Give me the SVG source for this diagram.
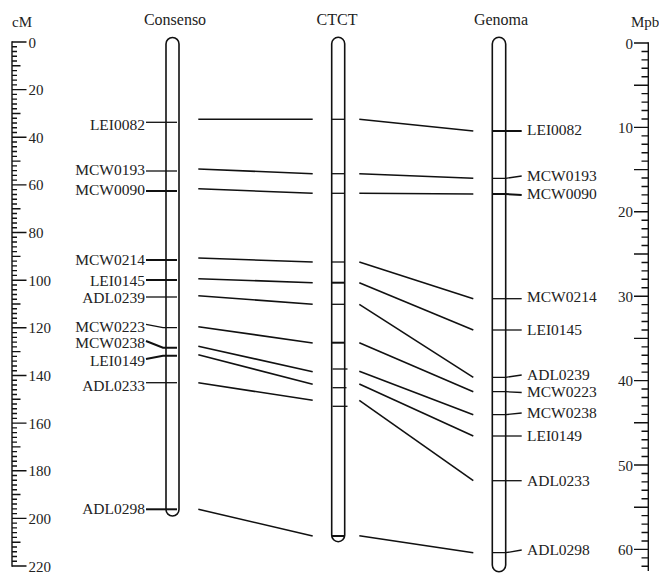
<svg xmlns="http://www.w3.org/2000/svg" width="659" height="573" viewBox="0 0 659 573">
<style>
text{font-family:"Liberation Serif","Times New Roman",serif;fill:#222}
.t{font-size:16px;text-anchor:middle}
.l{font-size:15.5px}
.e{text-anchor:end}
.n{font-size:15px}
.chr{fill:#fff;stroke:#111;stroke-width:1.6}
.k{fill:none;stroke:#111;stroke-width:1.3}
.k2{fill:none;stroke:#111;stroke-width:2}
.c{fill:none;stroke:#111;stroke-width:1.6}
.ax{fill:none;stroke:#111;stroke-width:1.4}
</style>
<g id="axis-cM">
<text class="n" x="12" y="27">cM</text>
<line class="ax" x1="12" y1="41.3" x2="12" y2="566.7" stroke-width="1.6"/>
<path class="ax" stroke-width="1.2" d="M12 46.76H17M12 51.53H17M12 56.29H17M12 61.05H17M12 70.58H17M12 75.35H17M12 80.11H17M12 84.87H17M12 94.4H17M12 99.16H17M12 103.93H17M12 108.69H17M12 118.22H17M12 122.98H17M12 127.75H17M12 132.51H17M12 142.04H17M12 146.8H17M12 151.56H17M12 156.33H17M12 165.85H17M12 170.62H17M12 175.38H17M12 180.15H17M12 189.67H17M12 194.44H17M12 199.2H17M12 203.96H17M12 213.49H17M12 218.25H17M12 223.02H17M12 227.78H17M12 237.31H17M12 242.07H17M12 246.84H17M12 251.6H17M12 261.13H17M12 265.89H17M12 270.65H17M12 275.42H17M12 284.95H17M12 289.71H17M12 294.47H17M12 299.24H17M12 308.76H17M12 313.53H17M12 318.29H17M12 323.05H17M12 332.58H17M12 337.35H17M12 342.11H17M12 346.87H17M12 356.4H17M12 361.16H17M12 365.93H17M12 370.69H17M12 380.22H17M12 384.98H17M12 389.75H17M12 394.51H17M12 404.04H17M12 408.8H17M12 413.56H17M12 418.33H17M12 427.85H17M12 432.62H17M12 437.38H17M12 442.15H17M12 451.67H17M12 456.44H17M12 461.2H17M12 465.96H17M12 475.49H17M12 480.25H17M12 485.02H17M12 489.78H17M12 499.31H17M12 504.07H17M12 508.84H17M12 513.6H17M12 523.13H17M12 527.89H17M12 532.65H17M12 537.42H17M12 546.95H17M12 551.71H17M12 556.47H17M12 561.24H17"/>
<path class="ax" d="M12 65.82H20.5M12 113.45H20.5M12 161.09H20.5M12 208.73H20.5M12 256.36H20.5M12 304H20.5M12 351.64H20.5M12 399.27H20.5M12 446.91H20.5M12 494.55H20.5M12 542.18H20.5"/>
<path class="ax" d="M12 42H26.5M12 89.64H26.5M12 137.27H26.5M12 184.91H26.5M12 232.55H26.5M12 280.18H26.5M12 327.82H26.5M12 375.45H26.5M12 423.09H26.5M12 470.73H26.5M12 518.36H26.5M12 566H26.5"/>
<text class="n" x="28.5" y="47.5">0</text>
<text class="n" x="28.5" y="95.1">20</text>
<text class="n" x="28.5" y="142.8">40</text>
<text class="n" x="28.5" y="190.4">60</text>
<text class="n" x="28.5" y="238">80</text>
<text class="n" x="28.5" y="285.7">100</text>
<text class="n" x="28.5" y="333.3">120</text>
<text class="n" x="28.5" y="381">140</text>
<text class="n" x="28.5" y="428.6">160</text>
<text class="n" x="28.5" y="476.2">180</text>
<text class="n" x="28.5" y="523.9">200</text>
<text class="n" x="28.5" y="571.5">220</text>
</g>
<g id="axis-Mpb">
<text class="n" x="631" y="27">Mpb</text>
<line class="ax" x1="648.3" y1="42.3" x2="648.3" y2="571" stroke-width="1.6"/>
<path class="ax" stroke-width="1.2" d="M641.5 51.44H648.3M641.5 59.88H648.3M641.5 68.32H648.3M641.5 76.76H648.3M641.5 93.64H648.3M641.5 102.08H648.3M641.5 110.52H648.3M641.5 118.96H648.3M641.5 135.84H648.3M641.5 144.28H648.3M641.5 152.72H648.3M641.5 161.16H648.3M641.5 178.04H648.3M641.5 186.48H648.3M641.5 194.92H648.3M641.5 203.36H648.3M641.5 220.24H648.3M641.5 228.68H648.3M641.5 237.12H648.3M641.5 245.56H648.3M641.5 262.44H648.3M641.5 270.88H648.3M641.5 279.32H648.3M641.5 287.76H648.3M641.5 304.64H648.3M641.5 313.08H648.3M641.5 321.52H648.3M641.5 329.96H648.3M641.5 346.84H648.3M641.5 355.28H648.3M641.5 363.72H648.3M641.5 372.16H648.3M641.5 389.04H648.3M641.5 397.48H648.3M641.5 405.92H648.3M641.5 414.36H648.3M641.5 431.24H648.3M641.5 439.68H648.3M641.5 448.12H648.3M641.5 456.56H648.3M641.5 473.44H648.3M641.5 481.88H648.3M641.5 490.32H648.3M641.5 498.76H648.3M641.5 515.64H648.3M641.5 524.08H648.3M641.5 532.52H648.3M641.5 540.96H648.3M641.5 557.84H648.3M641.5 566.28H648.3"/>
<path class="ax" d="M634 43H648.3M634 85.2H648.3M634 127.4H648.3M634 169.6H648.3M634 211.8H648.3M634 254H648.3M634 296.2H648.3M634 338.4H648.3M634 380.6H648.3M634 422.8H648.3M634 465H648.3M634 507.2H648.3M634 549.4H648.3"/>
<text class="n e" x="633" y="48.5">0</text>
<text class="n e" x="633" y="132.9">10</text>
<text class="n e" x="633" y="217.3">20</text>
<text class="n e" x="633" y="301.7">30</text>
<text class="n e" x="633" y="386.1">40</text>
<text class="n e" x="633" y="470.5">50</text>
<text class="n e" x="633" y="554.9">60</text>
</g>
<g id="node-consenso">
<text class="t" x="175" y="25">Consenso</text>
<rect class="chr" x="166" y="37.5" width="13" height="478.5" rx="6.5"/>
<line class="k" x1="146" y1="122.3" x2="177" y2="122.3"/>
<line class="k" x1="146" y1="171" x2="177" y2="171"/>
<line class="k2" x1="146" y1="191" x2="177" y2="191"/>
<line class="k2" x1="146" y1="260" x2="177" y2="260"/>
<line class="k2" x1="146" y1="280" x2="177" y2="280"/>
<line class="k" x1="146" y1="297" x2="177" y2="297"/>
<polyline class="k" points="146,324.3 163,327.7 177,327.7"/>
<polyline class="k2" points="146,341 163,347.7 177,347.7"/>
<polyline class="k2" points="146,359 163,355.7 177,355.7"/>
<line class="k" x1="146" y1="382.7" x2="177" y2="382.7"/>
<line class="k2" x1="146" y1="509.3" x2="177" y2="509.3"/>
<text class="l e" x="145" y="130">LEI0082</text>
<text class="l e" x="145" y="175">MCW0193</text>
<text class="l e" x="145" y="194.5">MCW0090</text>
<text class="l e" x="145" y="265">MCW0214</text>
<text class="l e" x="145" y="285.5">LEI0145</text>
<text class="l e" x="145" y="303">ADL0239</text>
<text class="l e" x="145" y="331.5">MCW0223</text>
<text class="l e" x="145" y="348">MCW0238</text>
<text class="l e" x="145" y="366">LEI0149</text>
<text class="l e" x="145" y="391">ADL0233</text>
<text class="l e" x="145" y="514">ADL0298</text>
</g>
<g id="node-ctct">
<text class="t" x="337" y="25">CTCT</text>
<rect class="chr" x="331.7" y="37.3" width="13" height="504.4" rx="6.5"/>
<line class="k" x1="331.7" y1="119.3" x2="344.7" y2="119.3"/>
<line class="k" x1="331.7" y1="173.7" x2="344.7" y2="173.7"/>
<line class="k" x1="331.7" y1="193.3" x2="344.7" y2="193.3"/>
<line class="k" x1="331.7" y1="262" x2="344.7" y2="262"/>
<line class="k2" x1="331.7" y1="282.7" x2="344.7" y2="282.7"/>
<line class="k" x1="331.7" y1="304.3" x2="344.7" y2="304.3"/>
<line class="k2" x1="331.7" y1="342.7" x2="344.7" y2="342.7"/>
<line class="k" x1="332.5" y1="369" x2="347.5" y2="369"/>
<line class="k" x1="332.5" y1="387.7" x2="346.5" y2="387.7"/>
<line class="k" x1="332.5" y1="406.3" x2="347.5" y2="406.3"/>
<line class="k2" x1="331.7" y1="536" x2="344.7" y2="536"/>
</g>
<g id="node-genoma">
<text class="t" x="501" y="25">Genoma</text>
<rect class="chr" x="492.3" y="37.3" width="13.4" height="534.4" rx="6.7"/>
<polyline class="k2" points="492.3,131 505.7,131 521.7,131"/>
<polyline class="k" points="492.3,178.3 505.7,178.3 521.7,176"/>
<polyline class="k2" points="492.3,194 505.7,194 521.7,195"/>
<polyline class="k" points="492.3,298.7 505.7,298.7 521.7,298.7"/>
<polyline class="k" points="492.3,330 505.7,330 521.7,330"/>
<polyline class="k" points="492.3,377.3 505.7,377.3 521.7,375"/>
<polyline class="k" points="492.3,391.7 505.7,391.7 521.7,392.5"/>
<polyline class="k" points="492.3,414.7 505.7,414.7 521.7,413"/>
<polyline class="k" points="492.3,436 505.7,436 521.7,436"/>
<polyline class="k" points="492.3,480.7 505.7,480.7 521.7,480.7"/>
<polyline class="k" points="492.3,552.7 505.7,552.7 521.7,550"/>
<text class="l" x="527" y="135">LEI0082</text>
<text class="l" x="527" y="181">MCW0193</text>
<text class="l" x="527" y="198.5">MCW0090</text>
<text class="l" x="527" y="302">MCW0214</text>
<text class="l" x="527" y="334.5">LEI0145</text>
<text class="l" x="527" y="380">ADL0239</text>
<text class="l" x="527" y="397">MCW0223</text>
<text class="l" x="527" y="418">MCW0238</text>
<text class="l" x="527" y="440.5">LEI0149</text>
<text class="l" x="527" y="485.5">ADL0233</text>
<text class="l" x="527" y="555">ADL0298</text>
</g>
<g id="connectors">
<line class="c" x1="198.3" y1="119.3" x2="312.7" y2="119.3"/>
<line class="c" x1="198.3" y1="169" x2="312.7" y2="173.7"/>
<line class="c" x1="198.3" y1="188.7" x2="312.7" y2="193.3"/>
<line class="c" x1="198.3" y1="258" x2="312.7" y2="262"/>
<line class="c" x1="198.3" y1="278.7" x2="312.7" y2="282.7"/>
<line class="c" x1="198.3" y1="295.7" x2="312.7" y2="304.3"/>
<line class="c" x1="198.3" y1="326.7" x2="312.7" y2="343"/>
<line class="c" x1="198.3" y1="346.3" x2="312.7" y2="371.7"/>
<line class="c" x1="198.3" y1="354.7" x2="312.7" y2="384.3"/>
<line class="c" x1="198.3" y1="382.7" x2="312.7" y2="400.3"/>
<line class="c" x1="198.3" y1="509.3" x2="312.7" y2="536"/>
<line class="c" x1="359.3" y1="119.3" x2="473.3" y2="131"/>
<line class="c" x1="359.3" y1="173.7" x2="473.3" y2="178.3"/>
<line class="c" x1="359.3" y1="193.3" x2="473.3" y2="194"/>
<line class="c" x1="359.3" y1="262" x2="473.3" y2="298.7"/>
<line class="c" x1="359.3" y1="282.7" x2="473.3" y2="330"/>
<line class="c" x1="359.3" y1="304.3" x2="473.3" y2="377.3"/>
<line class="c" x1="359.3" y1="342.7" x2="473.3" y2="391.7"/>
<line class="c" x1="359.3" y1="371.3" x2="473.3" y2="414.7"/>
<line class="c" x1="359.3" y1="384" x2="473.3" y2="436"/>
<line class="c" x1="359.3" y1="400.3" x2="473.3" y2="480.7"/>
<line class="c" x1="359.3" y1="535.7" x2="473.3" y2="552.7"/>
</g>
</svg>
